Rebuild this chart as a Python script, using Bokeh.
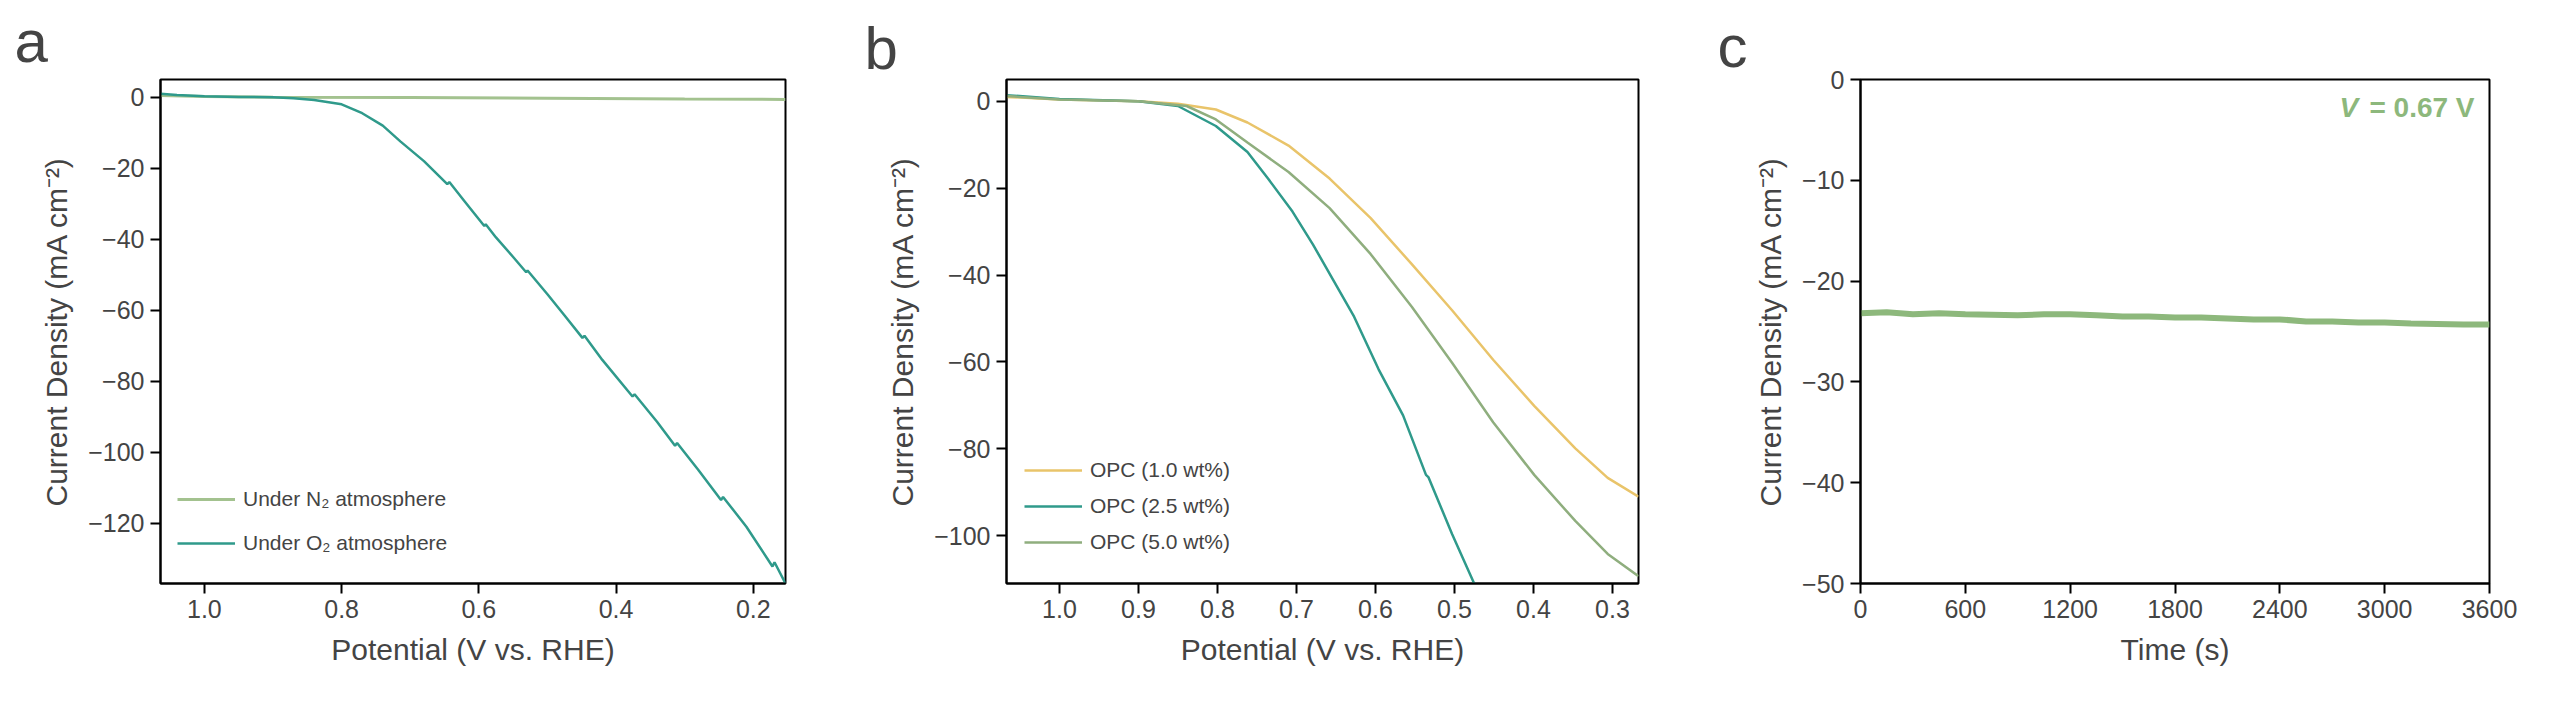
from bokeh.plotting import figure
from bokeh.layouts import row
from bokeh.models import Range1d, Label, Legend, LegendItem, FixedTicker
from bokeh.embed import file_html
from bokeh.resources import INLINE

# ---- panel a data ----
a_n2_v = [1.064, 1.0, 0.9, 0.7, 0.5, 0.3, 0.153]
a_n2_j = [0.5, 0.2, 0.0, -0.1, -0.3, -0.5, -0.6]
a_o2_v = [1.064, 1.04, 1.0, 0.95, 0.9, 0.87, 0.84, 0.8, 0.77, 0.74, 0.714, 0.68, 0.646, 0.643,
          0.62, 0.592, 0.590, 0.575, 0.55, 0.531, 0.529, 0.50, 0.475, 0.449, 0.446, 0.42,
          0.376, 0.373, 0.34, 0.314, 0.311, 0.28, 0.247, 0.244, 0.21, 0.172, 0.169, 0.153]
a_o2_j = [1.0, 0.6, 0.3, 0.1, 0.0, -0.3, -0.8, -2.0, -4.5, -8.0, -12.5, -18.0, -24.5, -23.9,
          -29.5, -36.3, -35.8, -39.5, -45.0, -49.3, -48.8, -55.5, -61.5, -67.8, -67.2, -74.0,
          -84.3, -83.7, -91.5, -98.2, -97.4, -105.0, -113.5, -112.6, -121.0, -132.2, -131.0, -137.0]

# ---- panel b data ----
b_v1 = [1.067, 1.0, 0.9, 0.85, 0.802, 0.762, 0.710, 0.658, 0.606, 0.554, 0.503, 0.451, 0.399, 0.347, 0.306, 0.267]
b_j1 = [1.0, 0.4, 0.0, -0.6, -1.9, -4.9, -10.2, -17.8, -26.9, -37.5, -48.1, -59.5, -70.1, -79.9, -86.7, -91.0]
b_v2 = [1.067, 1.0, 0.9, 0.85, 0.802, 0.762, 0.736, 0.705, 0.679, 0.653, 0.627, 0.596, 0.565, 0.536, 0.533, 0.503, 0.475]
b_j2 = [1.4, 0.5, 0.0, -1.1, -5.7, -11.7, -17.8, -25.4, -33.0, -41.3, -49.6, -61.7, -72.3, -86.0, -86.5, -99.6, -111.0]
b_v3 = [1.067, 1.0, 0.9, 0.839, 0.802, 0.762, 0.710, 0.658, 0.606, 0.554, 0.503, 0.451, 0.399, 0.347, 0.306, 0.267]
b_j3 = [1.2, 0.4, 0.0, -1.1, -4.2, -9.5, -16.3, -24.6, -35.2, -47.3, -60.2, -73.9, -86.0, -96.6, -104.2, -109.3]

# ---- panel c data ----
c_t = [0, 150, 300, 450, 600, 750, 900, 1050, 1200, 1350, 1500, 1650, 1800, 1950, 2100, 2250,
       2400, 2550, 2700, 2850, 3000, 3150, 3300, 3450, 3600]
c_j = [-23.2, -23.1, -23.3, -23.2, -23.3, -23.35, -23.4, -23.3, -23.3, -23.4, -23.5, -23.5, -23.6,
       -23.6, -23.7, -23.8, -23.8, -24.0, -24.0, -24.1, -24.1, -24.2, -24.25, -24.3, -24.3]

FONT = "Liberation Sans"
TEAL = "#2f9a8b"
N2 = "#a3c28f"
YEL = "#e9c46a"
OLIVE = "#8fae7e"
CGREEN = "#8db87c"


def make(width, left, right, xr, yr, xticks, yticks, xlabel, letter, loff, lstand):
    p = figure(width=width, height=687, output_backend="svg", toolbar_location=None,
               x_range=xr, y_range=yr, min_border_left=left, min_border_right=right,
               min_border_top=0, min_border_bottom=100, title=letter)
    p.frame_height = 504
    p.frame_width = width - left - right
    p.title.text_font = FONT
    p.title.text_font_size = "60px"
    p.title.text_font_style = "normal"
    p.title.align = "left"
    p.title.offset = loff
    p.title.standoff = lstand
    p.grid.visible = False
    p.outline_line_color = "black"
    p.outline_line_width = 2
    for ax in (p.xaxis[0], p.yaxis[0]):
        ax.axis_line_width = 2
        ax.major_tick_line_width = 2
        ax.major_tick_in = 0
        ax.major_tick_out = 10
        ax.minor_tick_line_color = None
        ax.major_label_text_font = FONT
        ax.major_label_text_font_size = "25px"
        ax.axis_label_text_font = FONT
        ax.axis_label_text_font_size = "30px"
        ax.axis_label_text_font_style = "normal"
        ax.major_label_standoff = 6
    p.xaxis.ticker = FixedTicker(ticks=xticks)
    p.yaxis.ticker = FixedTicker(ticks=yticks)
    p.xaxis.axis_label = xlabel
    p.yaxis.axis_label = "Current Density (mA cm⁻²)"
    p.xaxis.axis_label_standoff = 12
    p.yaxis.axis_label_standoff = 12
    return p


def legend(p, items, loc, spacing):
    lg = Legend(items=items, location=loc, border_line_color=None, background_fill_alpha=0,
                label_text_font=FONT, label_text_font_size="21px", glyph_width=58,
                glyph_height=20, label_height=20, spacing=spacing, padding=0, margin=0,
                label_standoff=8)
    p.add_layout(lg)


# panel a
pa = make(852, 160, 67, Range1d(1.064, 0.153), Range1d(-137, 5), [1.0, 0.8, 0.6, 0.4, 0.2],
          [0, -20, -40, -60, -80, -100, -120], "Potential (V vs. RHE)", "a", -146, 10)
r1 = pa.line(a_n2_v, a_n2_j, line_color=N2, line_width=3)
r2 = pa.line(a_o2_v, a_o2_j, line_color=TEAL, line_width=2.5)
pa.xaxis.major_label_overrides = {1.0: "1.0", 0.8: "0.8", 0.6: "0.6", 0.4: "0.4", 0.2: "0.2"}
legend(pa, [LegendItem(label="Under N₂ atmosphere", renderers=[r1]),
            LegendItem(label="Under O₂ atmosphere", renderers=[r2])], (17, 28), 20)

# panel b
pb = make(866, 154, 80, Range1d(1.067, 0.267), Range1d(-111, 5),
          [1.0, 0.9, 0.8, 0.7, 0.6, 0.5, 0.4, 0.3], [0, -20, -40, -60, -80, -100],
          "Potential (V vs. RHE)", "b", -142, -5)
s1 = pb.line(b_v1, b_j1, line_color=YEL, line_width=2.5)
s2 = pb.line(b_v2, b_j2, line_color=TEAL, line_width=2.5)
s3 = pb.line(b_v3, b_j3, line_color=OLIVE, line_width=2.5)
pb.xaxis.major_label_overrides = {1.0: "1.0", 0.9: "0.9", 0.8: "0.8", 0.7: "0.7", 0.6: "0.6",
                                  0.5: "0.5", 0.4: "0.4", 0.3: "0.3"}
legend(pb, [LegendItem(label="OPC (1.0 wt%)", renderers=[s1]),
            LegendItem(label="OPC (2.5 wt%)", renderers=[s2]),
            LegendItem(label="OPC (5.0 wt%)", renderers=[s3])], (18, 29), 12)

# panel c
pc = make(826, 142, 55, Range1d(0, 3600), Range1d(-50, 0), [0, 600, 1200, 1800, 2400, 3000, 3600],
          [0, -10, -20, -30, -40, -50], "Time (s)", "c", -143, 0)
pc.line(c_t, c_j, line_color=CGREEN, line_width=6)
pc.add_layout(Label(x=2741, y=-4.3, text="V", text_font=FONT, text_font_size="28px",
                    text_font_style="bold italic", text_color=CGREEN))
pc.add_layout(Label(x=2913, y=-4.3, text="= 0.67 V", text_font=FONT, text_font_size="28px",
                    text_font_style="bold", text_color=CGREEN))

layout = row(pa, pb, pc)
open("out.html", "w").write(file_html(layout, INLINE))
